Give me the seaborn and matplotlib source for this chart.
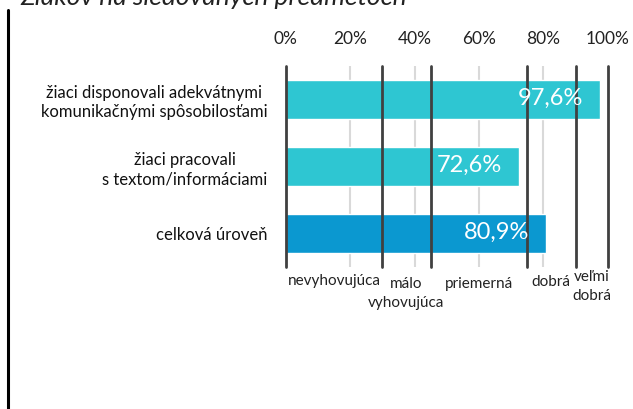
import matplotlib
matplotlib.use("Agg")
import matplotlib.pyplot as plt
import seaborn as sns
import pandas as pd

categories = ["žiaci disponovali adekvátnymi\nkomunikačnými spôsobilosťami",
              "žiaci pracovali\ns textom/informáciami",
              "celková úroveň"]
values = [97.6, 72.6, 80.9]
value_labels = ["97,6%", "72,6%", "80,9%"]
x_ticks = [0, 20, 40, 60, 80, 100]
x_tick_labels = ["0%", "20%", "40%", "60%", "80%", "100%"]
thresholds = [0, 30, 45, 75, 90, 100]
grade_labels = ["nevyhovujúca", "málo\nvyhovujúca", "priemerná", "dobrá", "veľmi\ndobrá"]
title = "Žiakov na sledovaných predmetoch"

sns.set_theme(style="white")
plt.rcParams['font.family'] = ['Lato', 'DejaVu Sans']

fig = plt.figure(figsize=(6.33, 4.09), dpi=100)
ax = fig.add_axes([285.7/633, 1-267/409, (607.7-285.7)/633, (267-66)/409])

df = pd.DataFrame({"cat": categories, "val": values})
colors = ["#2EC6D2", "#2EC6D2", "#0B98D0"]
sns.barplot(data=df, y="cat", x="val", hue="cat", palette=colors, legend=False,
            orient="h", width=0.57, ax=ax, zorder=2, saturation=1)

ax.set_xlim(0, 100)
ax.set_ylim(2.5, -0.5)
ax.set_xlabel("")
ax.set_ylabel("")
for s in ax.spines.values():
    s.set_visible(False)

# light grid
for t in x_ticks[1:-1]:
    ax.axvline(t, color="#D9D9D9", lw=1.5, zorder=1)
# dark threshold lines
for t in thresholds:
    ax.axvline(t, color="#404040", lw=2, zorder=4, clip_on=False)

ax.xaxis.tick_top()
ax.set_xticks(x_ticks)
ax.set_xticklabels(x_tick_labels, fontsize=12.5, color="#222222")
ax.tick_params(axis="x", length=0, pad=14)
ax.tick_params(axis="y", length=0, pad=13)
for lab in ax.get_yticklabels():
    lab.set_fontsize(12)
    lab.set_multialignment("center")
    lab.set_color("#111111")
    lab.set_linespacing(1.25)

for i, (v, lbl) in enumerate(zip(values, value_labels)):
    ax.annotate(lbl, xy=(v, i), xytext=(-17, 1), textcoords="offset pixels",
                ha="right", va="center", color="white", fontsize=17, zorder=5)

# grade labels: first-line pixel offset below axis, one line per text
grade_first_y = [-14, -17, -17, -15, -10]
line_step = 19
for k, lbl in enumerate(grade_labels):
    mid = (thresholds[k] + thresholds[k+1]) / 2
    for j, part in enumerate(lbl.split("\n")):
        ax.annotate(part, xy=(mid, 0), xycoords=("data", "axes fraction"),
                    xytext=(0, grade_first_y[k] - j*line_step), textcoords="offset pixels",
                    ha="center", va="center", fontsize=11, color="#222222",
                    annotation_clip=False)

fig.text(20/633, 1-5/409, title, fontsize=19, style="italic", va="baseline",
         ha="left", color="#222222")
fig.add_artist(plt.Line2D([8/633, 8/633], [0, 1-10/409], color="black", lw=2.2,
                          transform=fig.transFigure))

fig.savefig("out.png", dpi=100)
